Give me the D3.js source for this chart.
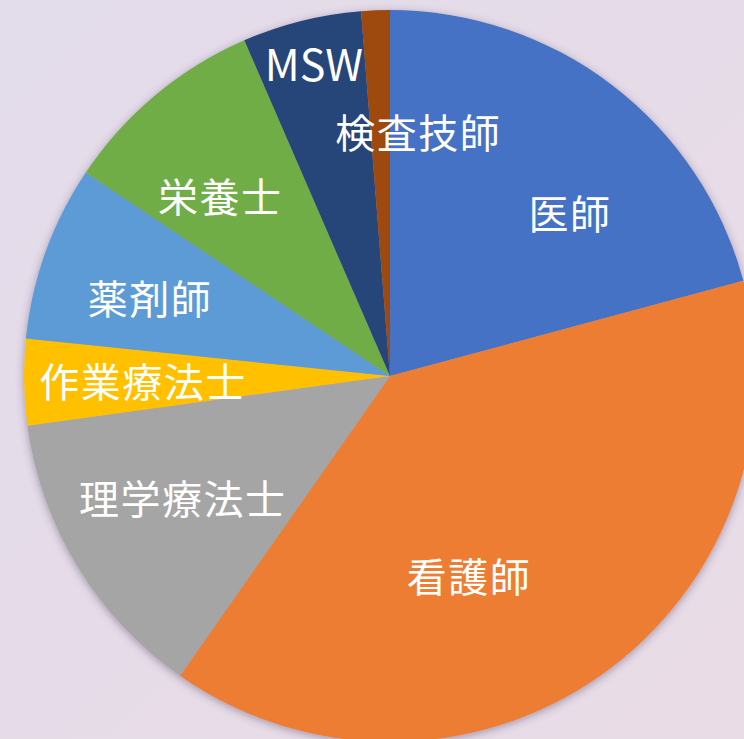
<!DOCTYPE html>
<html><head><meta charset="utf-8">
<script src="https://cdn.jsdelivr.net/npm/d3@7"></script>
<style>html,body{margin:0;padding:0;overflow:hidden;}</style>
</head><body>
<script>
// Data (clockwise from 12 o'clock)
const categories = ["医師","看護師","理学療法士","作業療法士","薬剤師","栄養士","MSW","検査技師"];
const values = [20.8, 38.9, 13.1, 3.8, 7.75, 9.1, 5.25, 1.26];
const colors = ["#4472C4","#ED7D31","#A5A5A5","#FFC000","#5B9BD5","#70AD47","#264478","#9E480E"];
// Label anchor offsets (fraction of radius, relative to pie centre)
const labelOffsets = [[0.492,-0.448],[0.216,0.544],[-0.566,0.331],[-0.675,0.011],[-0.656,-0.216],[-0.464,-0.495],[-0.208,-0.858],[0.077,-0.669]];

const W = 744, H = 739, cx = 390, cy = 376, R = 366;
const svg = d3.select("body").append("svg").attr("width", W).attr("height", H);
const defs = svg.append("defs");
const bg = defs.append("linearGradient").attr("id","bg").attr("x1","0").attr("y1","0").attr("x2","1").attr("y2","1");
bg.append("stop").attr("offset","0").attr("stop-color","#E3DCEA");
bg.append("stop").attr("offset","1").attr("stop-color","#E9DCE7");
const f = defs.append("filter").attr("id","sh").attr("x","-20%").attr("y","-20%").attr("width","140%").attr("height","140%");
f.append("feDropShadow").attr("dx",0).attr("dy",2).attr("stdDeviation",4).attr("flood-color","#4a3a5a").attr("flood-opacity",0.45);
svg.append("rect").attr("width",W).attr("height",H).attr("fill","url(#bg)");

const pie = d3.pie().sort(null).value(d => d)(values);
const arc = d3.arc().innerRadius(0).outerRadius(R);
const g = svg.append("g").attr("transform",`translate(${cx},${cy})`);
g.append("g").attr("filter","url(#sh)").selectAll("path").data(pie).join("path")
  .attr("d", arc).attr("fill", (d,i) => colors[i]);

g.selectAll("text").data(pie).join("text")
  .attr("x", (d,i) => labelOffsets[i][0]*R)
  .attr("y", (d,i) => labelOffsets[i][1]*R)
  .attr("text-anchor","middle").attr("dominant-baseline","central")
  .attr("fill","#fff")
  .style("font-family","'Noto Sans CJK JP','Noto Sans',sans-serif")
  .style("font-size", (d,i) => categories[i] === "MSW" ? "43px" : "40px")
  .style("letter-spacing", (d,i) => categories[i] === "MSW" ? "0px" : "1.5px")
  .text((d,i) => categories[i]);
</script>
</body></html>
